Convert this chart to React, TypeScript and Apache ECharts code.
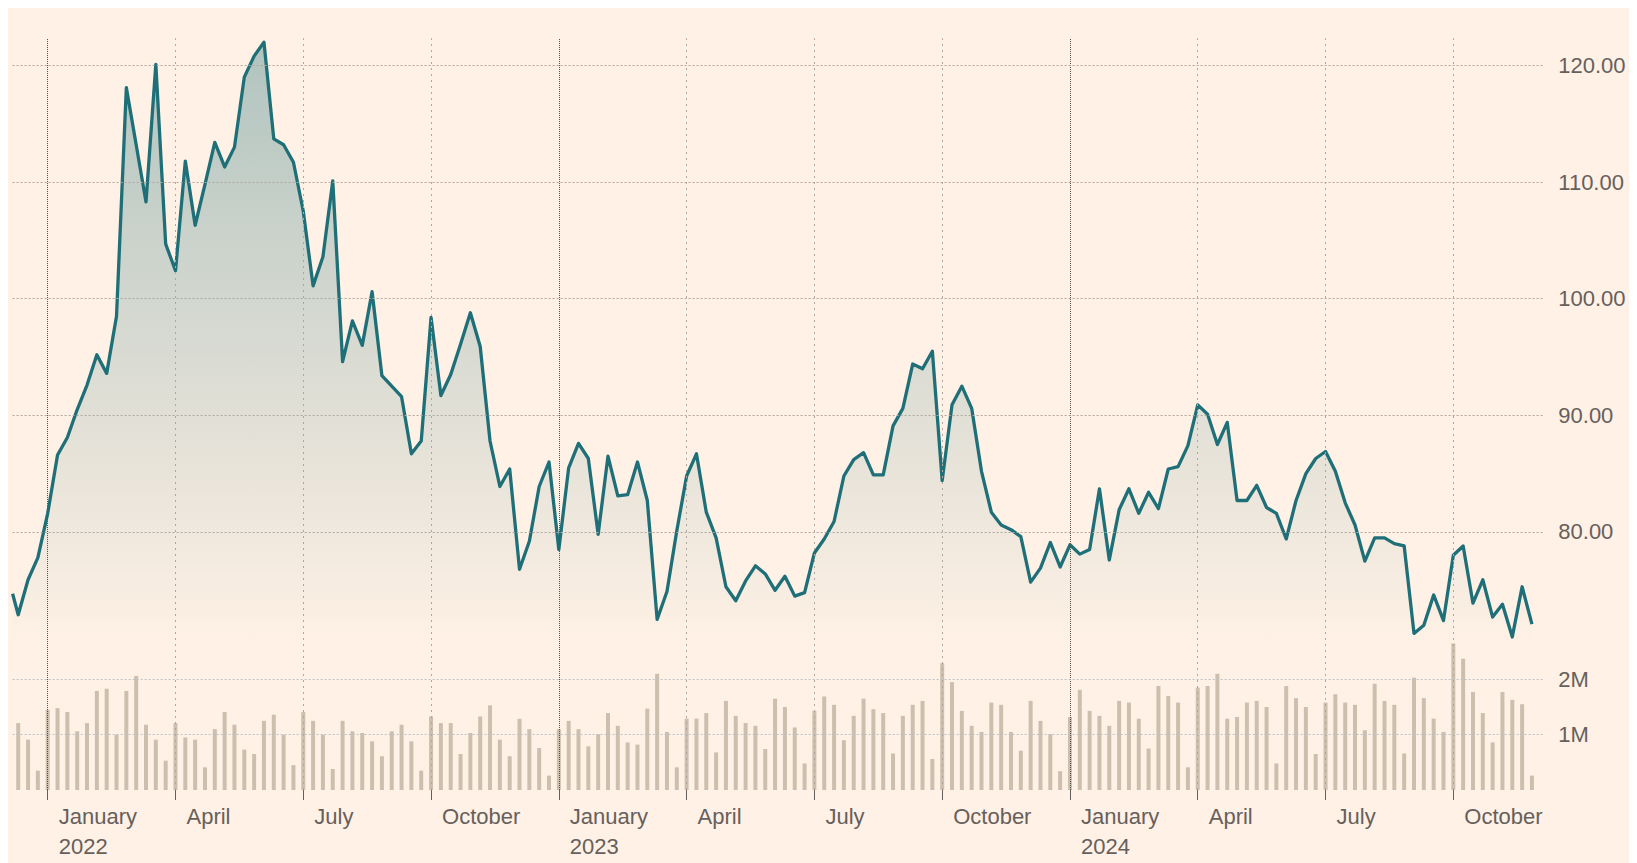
import React, { useEffect, useRef } from 'react';
import * as echarts from 'echarts';

// Weekly observation dates (Mondays); the first entry is the visible left edge of the window
const dates = [
  '2021-12-09', '2021-12-13', '2021-12-20', '2021-12-27',
  '2022-01-03', '2022-01-10', '2022-01-17', '2022-01-24', '2022-01-31',
  '2022-02-07', '2022-02-14', '2022-02-21', '2022-02-28',
  '2022-03-07', '2022-03-14', '2022-03-21', '2022-03-28',
  '2022-04-04', '2022-04-11', '2022-04-18', '2022-04-25',
  '2022-05-02', '2022-05-09', '2022-05-16', '2022-05-23', '2022-05-30',
  '2022-06-06', '2022-06-13', '2022-06-20', '2022-06-27',
  '2022-07-04', '2022-07-11', '2022-07-18', '2022-07-25',
  '2022-08-01', '2022-08-08', '2022-08-15', '2022-08-22', '2022-08-29',
  '2022-09-05', '2022-09-12', '2022-09-19', '2022-09-26',
  '2022-10-03', '2022-10-10', '2022-10-17', '2022-10-24', '2022-10-31',
  '2022-11-07', '2022-11-14', '2022-11-21', '2022-11-28',
  '2022-12-05', '2022-12-12', '2022-12-19', '2022-12-26',
  '2023-01-02', '2023-01-09', '2023-01-16', '2023-01-23', '2023-01-30',
  '2023-02-06', '2023-02-13', '2023-02-20', '2023-02-27',
  '2023-03-06', '2023-03-13', '2023-03-20', '2023-03-27',
  '2023-04-03', '2023-04-10', '2023-04-17', '2023-04-24',
  '2023-05-01', '2023-05-08', '2023-05-15', '2023-05-22', '2023-05-29',
  '2023-06-05', '2023-06-12', '2023-06-19', '2023-06-26',
  '2023-07-03', '2023-07-10', '2023-07-17', '2023-07-24', '2023-07-31',
  '2023-08-07', '2023-08-14', '2023-08-21', '2023-08-28',
  '2023-09-04', '2023-09-11', '2023-09-18', '2023-09-25',
  '2023-10-02', '2023-10-09', '2023-10-16', '2023-10-23', '2023-10-30',
  '2023-11-06', '2023-11-13', '2023-11-20', '2023-11-27',
  '2023-12-04', '2023-12-11', '2023-12-18', '2023-12-25',
  '2024-01-01', '2024-01-08', '2024-01-15', '2024-01-22', '2024-01-29',
  '2024-02-05', '2024-02-12', '2024-02-19', '2024-02-26',
  '2024-03-04', '2024-03-11', '2024-03-18', '2024-03-25',
  '2024-04-01', '2024-04-08', '2024-04-15', '2024-04-22', '2024-04-29',
  '2024-05-06', '2024-05-13', '2024-05-20', '2024-05-27',
  '2024-06-03', '2024-06-10', '2024-06-17', '2024-06-24',
  '2024-07-01', '2024-07-08', '2024-07-15', '2024-07-22', '2024-07-29',
  '2024-08-05', '2024-08-12', '2024-08-19', '2024-08-26',
  '2024-09-02', '2024-09-09', '2024-09-16', '2024-09-23', '2024-09-30',
  '2024-10-07', '2024-10-14', '2024-10-21', '2024-10-28',
  '2024-11-04', '2024-11-11', '2024-11-18', '2024-11-25',
];

// Weekly closing price
const price = [
  74.7, 72.9, 75.9, 77.8,
  81.6, 86.6, 88.1, 90.5, 92.6,
  95.2, 93.6, 98.5, 118.1,
  113.2, 108.3, 120.1, 104.7,
  102.4, 111.8, 106.3, 109.8,
  113.4, 111.3, 113.0, 119.0, 120.8,
  122.0, 113.7, 113.2, 111.7,
  107.5, 101.1, 103.6, 110.1,
  94.6, 98.1, 96.0, 100.6, 93.4,
  92.5, 91.6, 86.7, 87.8,
  98.4, 91.7, 93.5, 96.1, 98.8,
  95.9, 87.8, 83.9, 85.4,
  76.8, 79.2, 83.9, 86.0,
  78.5, 85.5, 87.6, 86.3, 79.8,
  86.5, 83.1, 83.2, 86.0,
  82.7, 72.5, 74.9, 80.1,
  84.8, 86.7, 81.7, 79.5,
  75.3, 74.1, 75.8, 77.1, 76.4,
  75.0, 76.2, 74.5, 74.8,
  78.2, 79.4, 80.9, 84.8, 86.2,
  86.8, 84.9, 84.9, 89.1,
  90.6, 94.4, 94.0, 95.5,
  84.4, 90.9, 92.5, 90.6, 85.2,
  81.7, 80.6, 80.2, 79.6,
  75.7, 76.9, 79.1, 77.0,
  78.9, 78.1, 78.5, 83.7, 77.6,
  81.9, 83.7, 81.6, 83.4,
  82.0, 85.4, 85.6, 87.4,
  90.9, 90.1, 87.5, 89.4, 82.7,
  82.7, 84.0, 82.1, 81.6,
  79.4, 82.7, 85.0, 86.3,
  86.9, 85.2, 82.5, 80.6, 77.5,
  79.5, 79.5, 79.0, 78.8,
  71.3, 72.0, 74.6, 72.4, 78.0,
  78.8, 73.9, 75.9, 72.7,
  73.8, 71.0, 75.3, 72.1,
];

// Weekly volume, millions of shares (no bar at the window edge)
const volume = [
  null, 1.21, 0.91, 0.35,
  1.45, 1.48, 1.41, 1.06, 1.21,
  1.79, 1.83, 1.0, 1.79,
  2.06, 1.18, 0.91, 0.53,
  1.21, 0.95, 0.91, 0.41,
  1.1, 1.41, 1.18, 0.73, 0.65,
  1.25, 1.36, 1.0, 0.45,
  1.41, 1.25, 1.0, 0.38,
  1.25, 1.06, 1.03, 0.88, 0.61,
  1.06, 1.18, 0.88, 0.35,
  1.33, 1.21, 1.21, 0.65, 1.03,
  1.33, 1.53, 0.91, 0.61,
  1.29, 1.1, 0.76, 0.26,
  1.1, 1.25, 1.1, 0.79, 1.01,
  1.39, 1.16, 0.86, 0.82,
  1.47, 2.1, 1.05, 0.41,
  1.29, 1.29, 1.39, 0.68,
  1.61, 1.34, 1.21, 1.16, 0.74,
  1.65, 1.5, 1.13, 0.48,
  1.43, 1.69, 1.54, 0.9, 1.34,
  1.65, 1.46, 1.39, 0.66,
  1.34, 1.54, 1.61, 0.56,
  2.29, 1.95, 1.43, 1.16, 1.05,
  1.58, 1.54, 1.05, 0.71,
  1.61, 1.25, 1.01, 0.34,
  1.32, 1.81, 1.43, 1.34, 1.16,
  1.61, 1.58, 1.29, 0.75,
  1.88, 1.7, 1.58, 0.41,
  1.85, 1.88, 2.1, 1.29, 1.32,
  1.58, 1.61, 1.5, 0.48,
  1.88, 1.66, 1.5, 0.65,
  1.58, 1.73, 1.58, 1.54, 1.08,
  1.92, 1.61, 1.54, 0.66,
  2.03, 1.66, 1.29, 1.05, 2.65,
  2.37, 1.77, 1.39, 0.86,
  1.77, 1.63, 1.55, 0.26,
];

// Axis ticks and labels
const tickDates = [
  '2022-01-03', '2022-04-04', '2022-07-04', '2022-10-03',
  '2023-01-02', '2023-04-03', '2023-07-03', '2023-10-02',
  '2024-01-01', '2024-04-01', '2024-07-01', '2024-09-30',
];
const tickLabels = [
  'January\n2022', 'April', 'July', 'October',
  'January\n2023', 'April', 'July', 'October',
  'January\n2024', 'April', 'July', 'October',
];
const yearTickDates = ['2022-01-03', '2023-01-02', '2024-01-01'];
const priceTicks = [80, 90, 100, 110, 120];
const volumeTicks = [1, 2];
const axisStart = '2021-12-09';
const axisEnd = '2024-12-03';

function ts(s: string): number {
  const [y, m, d] = s.split('-').map(Number);
  return Date.UTC(y, m - 1, d);
}

export default function App() {
  const ref = useRef<HTMLDivElement>(null);

  useEffect(() => {
    if (!ref.current) return;
    const chart = echarts.init(ref.current, null, { renderer: 'svg' });

    const FONT = "'Liberation Sans', Arial, Helvetica, sans-serif";
    const TEXT = '#66605c';
    const LINE = '#1f6f78';

    const times = dates.map(ts);
    const priceData = times.map((t, i) => [t, price[i]]);
    const volData = times.map((t, i) => [t, volume[i] == null ? '-' : volume[i]]);
    const tickTimes = tickDates.map(ts);
    const yearTimes = yearTickDates.map(ts);
    const xMin = ts(axisStart);
    const xMax = ts(axisEnd) + 2 * 3600 * 1000;

    const gridLeft = 4.6;
    const gridRight = 85.7;
    const gridTop = 30.3;

    const vLines = tickTimes.map((t) => {
      const isYear = yearTimes.indexOf(t) >= 0;
      return {
        xAxis: t,
        lineStyle: isYear
          ? { color: '#55504b', width: 1, type: [1, 1] }
          : { color: '#aea79f', width: 1, type: [2, 4] },
      };
    });
    const volLines = volumeTicks.map((v) => ({
      yAxis: v,
      lineStyle: { color: '#b9c3ca', width: 1, type: [2, 2] },
    }));
    const priceLines = priceTicks.map((v) => ({
      yAxis: v,
      lineStyle: { color: '#aea79f', width: 1, type: [2, 2] },
    }));

    const option: any = {
      animation: false,
      backgroundColor: '#fff1e5',
      textStyle: { fontFamily: FONT },
      grid: [
        { left: gridLeft, right: gridRight, top: gridTop, bottom: 73 },
        { left: gridLeft, right: gridRight, top: gridTop, height: 610.3 },
      ],
      xAxis: [
        {
          type: 'value',
          gridIndex: 0,
          min: xMin,
          max: xMax,
          offset: 4,
          axisLine: { show: false },
          axisTick: {
            show: true,
            customValues: tickTimes,
            length: 10,
            lineStyle: { color: TEXT, width: 1 },
          },
          axisLabel: {
            show: true,
            customValues: tickTimes,
            formatter: (v: number) => {
              const i = tickTimes.indexOf(v);
              return i >= 0 ? tickLabels[i] : '';
            },
            align: 'left',
            padding: [0, 0, 0, 11],
            margin: 7,
            fontSize: 22,
            lineHeight: 30,
            color: TEXT,
            fontFamily: FONT,
            hideOverlap: false,
          },
          splitLine: { show: false },
        },
        { type: 'value', gridIndex: 1, min: xMin, max: xMax, show: false, splitLine: { show: false } },
      ],
      yAxis: [
        {
          type: 'value',
          gridIndex: 0,
          position: 'right',
          min: 0,
          max: 13.586,
          interval: 1,
          axisLine: { show: false },
          axisTick: { show: false },
          splitLine: { show: false },
          axisLabel: {
            margin: 15,
            fontSize: 22,
            color: TEXT,
            fontFamily: FONT,
            formatter: (v: number) => (volumeTicks.indexOf(v) >= 0 ? v + 'M' : ''),
          },
        },
        {
          type: 'value',
          gridIndex: 1,
          position: 'right',
          min: 70,
          max: 122.33,
          interval: 10,
          axisLine: { show: false },
          axisTick: { show: false },
          splitLine: { show: false },
          axisLabel: {
            margin: 15,
            fontSize: 22,
            color: TEXT,
            fontFamily: FONT,
            formatter: (v: number) => (priceTicks.indexOf(v) >= 0 ? v.toFixed(2) : ''),
          },
        },
      ],
      series: [
        {
          name: 'vgrid',
          type: 'line',
          xAxisIndex: 0,
          yAxisIndex: 0,
          data: [],
          z: 1,
          silent: true,
          markLine: {
            silent: true,
            symbol: ['none', 'none'],
            label: { show: false },
            emphasis: { disabled: true },
            data: [...vLines, ...volLines],
          },
        },
        {
          name: 'pgrid',
          type: 'line',
          xAxisIndex: 1,
          yAxisIndex: 1,
          data: [],
          z: 1,
          silent: true,
          markLine: {
            silent: true,
            symbol: ['none', 'none'],
            label: { show: false },
            emphasis: { disabled: true },
            data: priceLines,
          },
        },
        {
          name: 'Volume',
          type: 'bar',
          xAxisIndex: 0,
          yAxisIndex: 0,
          data: volData,
          barWidth: 4,
          z: 2,
          itemStyle: { color: '#cdbfad' },
          silent: true,
        },
        {
          name: 'Price',
          type: 'line',
          xAxisIndex: 1,
          yAxisIndex: 1,
          data: priceData,
          showSymbol: false,
          symbol: 'none',
          z: 3,
          silent: true,
          lineStyle: { color: LINE, width: 3.3, join: 'round' },
          areaStyle: {
            origin: 'start',
            color: {
              type: 'linear',
              x: 0,
              y: gridTop,
              x2: 0,
              y2: 640,
              global: true,
              colorStops: [
                { offset: 0, color: 'rgba(31,111,120,0.5)' },
                { offset: 1, color: 'rgba(31,111,120,0.0)' },
              ],
            },
          },
        },
      ],
    };

    chart.setOption(option);
    return () => {
      chart.dispose();
    };
  }, []);

  return <div ref={ref} style={{ width: '100%', height: 855 }} />;
}
